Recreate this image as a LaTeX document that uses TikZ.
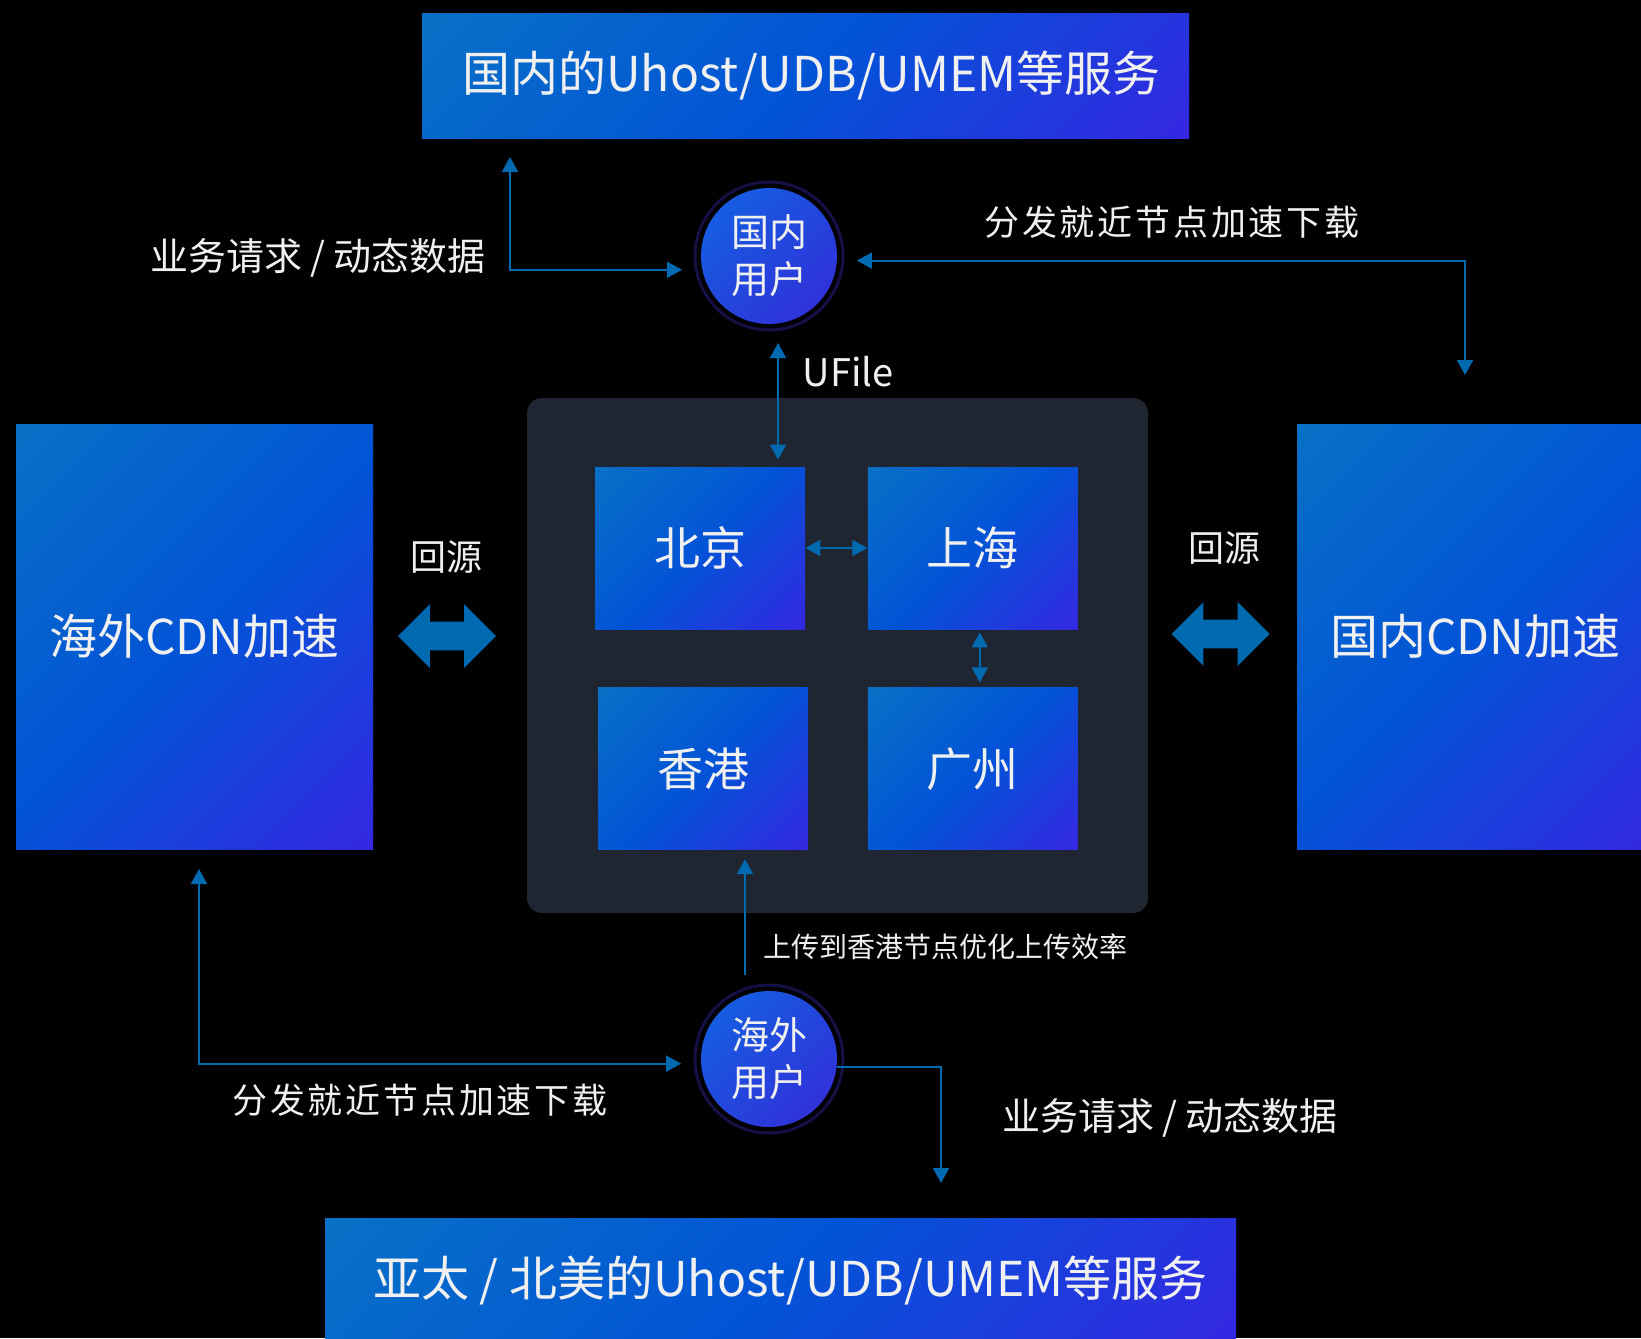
\documentclass[tikz,border=0pt]{standalone}
\usepackage{fontspec}
\setmainfont{Noto Sans CJK SC}
\usepackage{tikz}
\usetikzlibrary{arrows.meta,shapes.arrows,positioning}

\definecolor{gradA}{RGB}{8,112,198}
\definecolor{gradB}{RGB}{2,84,214}
\definecolor{gradC}{RGB}{52,40,226}
\definecolor{discA}{RGB}{20,96,226}
\definecolor{discB}{RGB}{50,46,216}
\definecolor{ringc}{RGB}{22,16,70}
\definecolor{panelc}{RGB}{31,38,50}
\definecolor{flowc}{RGB}{0,106,176}
\definecolor{textc}{RGB}{240,240,240}

\pgfdeclarehorizontalshading{boxgrad}{100bp}{color(0bp)=(gradA); color(15bp)=(gradA); color(50bp)=(gradB); color(85bp)=(gradC); color(100bp)=(gradC)}
\pgfdeclarehorizontalshading{discgrad}{100bp}{color(0bp)=(discA); color(20bp)=(discA); color(80bp)=(discB); color(100bp)=(discB)}

\begin{document}
\begin{tikzpicture}[x=0.5pt,y=-0.5pt,>={Triangle[length=7.5pt,width=8pt]}]
	\tikzstyle{grad box}=[rectangle, shading=boxgrad, shading angle=-45, inner sep=0pt, text=textc]
	\tikzstyle{service box}=[grad box, minimum height=62pt, font=\fontsize{24}{29}\selectfont]
	\tikzstyle{cdn box}=[grad box, minimum width=178.5pt, minimum height=212.5pt, font=\fontsize{24}{28}\selectfont]
	\tikzstyle{city box}=[grad box, minimum width=105pt, minimum height=81pt, font=\fontsize{23}{27}\selectfont]
	\tikzstyle{user disc}=[circle, shading=discgrad, shading angle=-45, minimum size=68pt, inner sep=0pt, outer sep=10pt, align=center, text=textc, font=\fontsize{19}{23.5}\selectfont]
	\tikzstyle{flow line}=[draw=flowc, line width=0.9pt]
	\tikzstyle{fat arrow}=[double arrow, fill=flowc, minimum height=49pt, inner xsep=0pt, inner ysep=7pt, double arrow head extend=8.75pt]
	\tikzstyle{note text}=[inner sep=0pt, text=textc, font=\fontsize{19}{23}\selectfont]
	\tikzstyle{spaced text}=[inner sep=0pt, text=textc, font=\fontsize{17.5}{21}\selectfont\addfontfeature{LetterSpace=8}]
	\tikzstyle{small text}=[inner sep=0pt, text=textc, font=\fontsize{14}{17}\selectfont]

	\useasboundingbox (0,0) rectangle (1641,1338);
	\fill[black] (0,0) rectangle (1641,1338);

	% storage regions
	\node [rectangle, fill=panelc, rounded corners=7.5pt, minimum width=310.5pt, minimum height=257.5pt] (panel) at (837.5,655.5) {};
	\node [city box] (bj) at (700,548) {北京};
	\node [city box] (sh) [right=31pt of bj] {上海};
	\node [city box] (hk) [below=29pt of bj, xshift=1.5pt] {香港};
	\node [city box] (gz) [below=29pt of sh] {广州};

	% services and CDN
	\node [service box, minimum width=383.5pt] (svcCN) at (805.5,76) {\hspace{6pt}国内的Uhost/UDB/UMEM等服务};
	\node [service box, minimum width=455.5pt] (svcOS) at (780.5,1280) {\hspace{10pt}亚太 / 北美的Uhost/UDB/UMEM等服务};
	\node [cdn box] (cdnOS) at (194.5,636.5) {海外CDN加速\hspace{5pt}};
	\node [cdn box] (cdnCN) at (1475.5,636.5) {国内CDN加速\hspace{5pt}};

	% users
	\node [user disc] (userCN) at (769,256) {国内\\用户};
	\node [user disc] (userOS) at (769,1059) {海外\\用户};
	\draw [ringc, line width=1.5pt] (userCN.center) circle [radius=37pt];
	\draw [ringc, line width=1.5pt] (userOS.center) circle [radius=37pt];

	% back to origin
	\node [fat arrow] (backOS) at (447,636) {};
	\node [fat arrow] (backCN) at (1220.5,634) {};

	\coordinate (reqTip) at (510,157);
	\coordinate (distTip) at (1465,375);
	\coordinate (distUpTip) at (199,869);
	\coordinate (reqDownTip) at (941,1183);
	\coordinate (ufileTip) at (778,343);
	\coordinate (uploadFoot) at (745,975);

	\draw [flow line,<->] (reqTip) |- (userCN.189);
	\draw [flow line,<->] (userCN.357) -| (distTip);
	\draw [flow line,<->] (distUpTip) |- (userOS.183);
	\draw [flow line,->,shorten <=-10pt] (userOS.355) -| (reqDownTip);
	\draw [flow line,<->,shorten >=3.5pt] (ufileTip) -- (ufileTip |- bj.north);
	\draw [flow line,->,shorten >=4.5pt] (uploadFoot) -- (uploadFoot |- hk.south);
	\draw [flow line,<->] (bj) -- (sh);
	\draw [flow line,<->,shorten <=1.5pt,shorten >=2.5pt] ([xshift=3.5pt]sh.south) -- ([xshift=3.5pt]gz.north);

	% labels
	\node [note text] (reqCNlbl) at (318,258) {业务请求 / 动态数据};
	\node [spaced text] (distCNlbl) at (1172,222) {分发就近节点加速下载};
	\node [spaced text] (distOSlbl) at (420,1100) {分发就近节点加速下载};
	\node [note text] (reqOSlbl) at (1170,1118) {业务请求 / 动态数据};
	\node [note text, font=\fontsize{18}{22}\selectfont] (backOSlbl) at (446,557) {回源};
	\node [note text, font=\fontsize{18}{22}\selectfont] (backCNlbl) at (1224,548) {回源};
	\node [note text] (ufileLbl) at (848,372) {UFile};
	\node [small text] (uploadLbl) at (945,947) {上传到香港节点优化上传效率};
\end{tikzpicture}
\end{document}
